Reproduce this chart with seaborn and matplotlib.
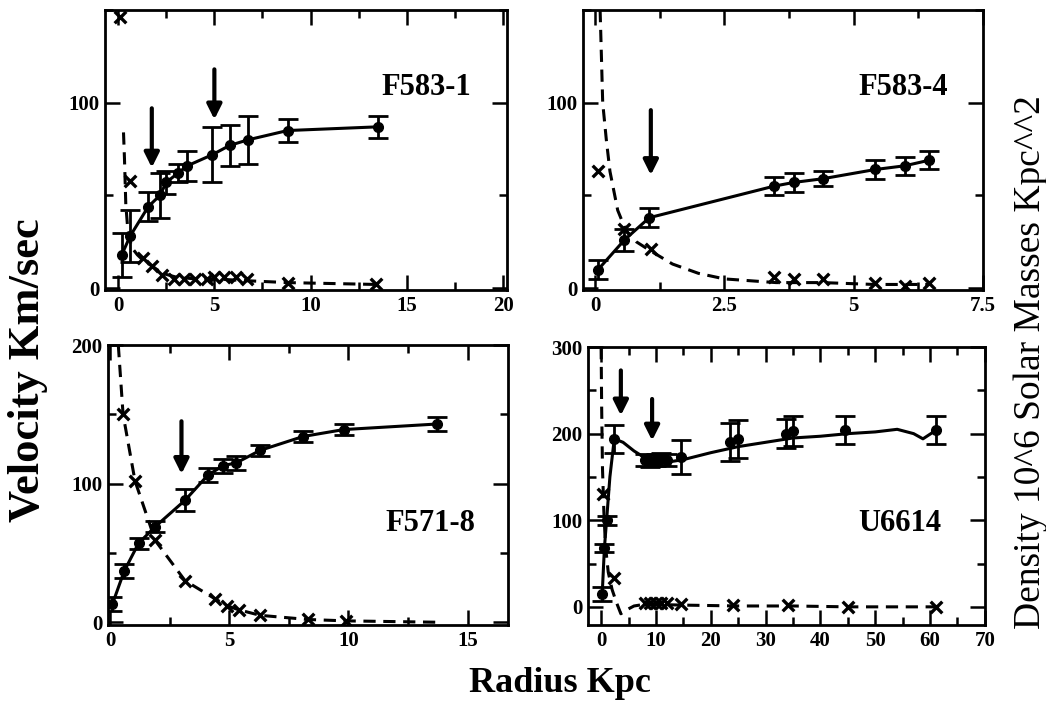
import numpy as np
import seaborn as sns
import matplotlib.pyplot as plt
from matplotlib.ticker import MultipleLocator, FuncFormatter

# F583-1
r_f5831 = [0.19, 0.62, 1.57, 2.17, 2.5, 3.1, 3.6, 4.9, 5.8, 6.75, 8.8, 13.5]
v_f5831 = [18, 28, 44, 50, 57, 62, 66, 72, 77, 80, 85, 87]
e_f5831 = [12, 14, 8, 12, 6, 5, 8, 15, 11, 13, 6, 6]
rd_f5831 = [0.1, 0.62, 1.3, 1.75, 2.3, 2.9, 3.4, 4.0, 4.6, 5.0, 5.5, 6.1, 6.7, 8.8, 13.4]
d_f5831 = [146, 58, 16, 12, 7, 5, 5, 5, 5, 6, 6, 6, 5, 3, 2]
cr_f5831 = [0.28, 0.33, 0.4, 0.5, 0.7, 1.0, 1.3, 1.75, 2.3, 3.0, 4.0, 5.0, 6.7, 8.8, 13.4]
cd_f5831 = [84, 70, 45, 32, 22, 18, 15, 12, 8, 6, 5, 5, 4, 3, 2]

# F583-4
r_f5834 = [0.06, 0.57, 1.05, 3.46, 3.84, 4.4, 5.42, 5.99, 6.46]
v_f5834 = [10, 26, 38, 55, 57, 59, 64, 66, 69]
e_f5834 = [5, 6, 5, 5, 5, 4, 5, 5, 5]
rd_f5834 = [0.06, 0.57, 1.08, 3.46, 3.84, 4.4, 5.42, 5.99, 6.46]
d_f5834 = [63, 32, 21, 6, 5, 5, 3, 1, 3]
cr_f5834 = [0.1, 0.15, 0.22, 0.29, 0.44, 0.6, 0.8, 1.08, 1.5, 2.0, 2.5, 3.0, 3.5, 4.4, 5.4, 6.5]
cd_f5834 = [150, 100, 80, 63, 42, 31, 25, 20, 13, 8, 5, 4, 3, 3, 2, 2]

# F571-8
r_f5718 = [0.1, 0.6, 1.2, 1.9, 3.15, 4.1, 4.75, 5.3, 6.3, 8.1, 9.8, 13.7]
v_f5718 = [13, 37, 57, 69, 88, 106, 113, 115, 124, 134, 139, 143]
e_f5718 = [5, 5, 4, 4, 8, 5, 5, 5, 4, 4, 4, 5]
rd_f5718 = [0.55, 1.05, 1.9, 3.15, 4.4, 4.9, 5.4, 6.3, 8.3, 9.9]
d_f5718 = [150, 102, 59, 30, 17, 12, 9, 5, 2, 1]
cr_f5718 = [0.35, 0.55, 1.05, 1.9, 3.15, 4.4, 4.9, 5.4, 6.3, 8.3, 9.9, 13.8]
cd_f5718 = [200, 150, 102, 59, 30, 17, 12, 9, 5, 2, 1, 0]

# U6614
r_u6614 = [0.2, 0.6, 1.0, 2.4, 8, 9, 10, 11, 12, 14.5, 23.5, 25, 33.7, 35, 44.5, 61.1]
v_u6614 = [15, 68, 100, 194, 170, 168, 170, 171, 170, 173, 190, 194, 200, 203, 204, 204]
e_u6614 = [8, 5, 5, 16, 7, 7, 7, 7, 7, 20, 22, 22, 17, 17, 16, 16]
fr_u6614 = [0.2, 0.6, 1.0, 1.6, 2.4, 4, 6, 8, 10, 12, 15, 20, 25, 30, 35, 40, 45, 50, 54, 57, 58.7, 61.1]
fv_u6614 = [15, 68, 100, 150, 194, 190, 180, 172, 167, 167, 170, 178, 185, 190, 195, 197, 200, 202, 205, 200, 194, 204]
rd_u6614 = [0.4, 2.4, 8, 9, 10, 11, 12, 14.5, 24, 34, 45, 61]
d_u6614 = [130, 33, 4, 4, 4, 4, 4, 3, 2, 2, 0, 0]
cr_u6614 = [0, 0.1, 0.25, 0.5, 0.8, 1.3, 2.0, 2.8, 3.6, 4.5, 6, 8, 15, 25, 35, 45, 61]
cd_u6614 = [300, 230, 160, 110, 70, 40, 20, 5, -8, -4, 1, 3, 2, 1, 1, 0, 0]

sns.set_style("ticks", {'axes.edgecolor': 'black', 'text.color': 'black',
                        'xtick.color': 'black', 'ytick.color': 'black',
                        'axes.labelcolor': 'black'})
plt.rcParams['font.family'] = ['Liberation Serif', 'DejaVu Serif']

fig = plt.figure(figsize=(10.46, 7.2), dpi=100)

panels = [
    dict(rect=[0.1004, 0.5972, 0.3843, 0.3889], name='F583-1',
         r=r_f5831, v=v_f5831, e=e_f5831, fr=r_f5831, fv=v_f5831,
         rd=rd_f5831, d=d_f5831, cr=cr_f5831, cd=cd_f5831,
         xlim=(-0.68, 20.2), ylim=(-1, 150), xmaj=5, xmin=2.5, ymaj=100, ymin=50,
         label_xy=(16, 108), arrows=[(1.75, 97, 65), (5.0, 118, 91)]),
    dict(rect=[0.5574, 0.5972, 0.3824, 0.3889], name='F583-4',
         r=r_f5834, v=v_f5834, e=e_f5834, fr=r_f5834, fv=v_f5834,
         rd=rd_f5834, d=d_f5834, cr=cr_f5834, cd=cd_f5834,
         xlim=(-0.23, 7.5), ylim=(-1, 150), xmaj=2.5, xmin=1.25, ymaj=100, ymin=50,
         label_xy=(5.95, 108), arrows=[(1.08, 96, 61)]),
    dict(rect=[0.1033, 0.1319, 0.3824, 0.3889], name='F571-8',
         r=r_f5718, v=v_f5718, e=e_f5718, fr=r_f5718, fv=v_f5718,
         rd=rd_f5718, d=d_f5718, cr=cr_f5718, cd=cd_f5718,
         xlim=(-0.08, 16.7), ylim=(-2, 200), xmaj=5, xmin=2.5, ymaj=100, ymin=50,
         label_xy=(13.45, 71), arrows=[(3.0, 145, 107)]),
    dict(rect=[0.5621, 0.1319, 0.3795, 0.3861], name='U6614',
         r=r_u6614, v=v_u6614, e=e_u6614, fr=fr_u6614, fv=fv_u6614,
         rd=rd_u6614, d=d_u6614, cr=cr_u6614, cd=cd_u6614,
         xlim=(-2.4, 70), ylim=(-21, 300), xmaj=10, xmin=5, ymaj=100, ymin=50,
         label_xy=(54.4, 96), arrows=[(3.6, 273, 221), (9.3, 240, 192)]),
]

fmt = FuncFormatter(lambda val, pos: '%g' % val)

for p in panels:
    ax = fig.add_axes(p['rect'])
    # density profile (dashed) and its points
    sns.lineplot(x=p['cr'], y=p['cd'], ax=ax, color='k', lw=2.2,
                 linestyle=(0, (4, 2.5)), sort=False, estimator=None)
    sns.scatterplot(x=p['rd'], y=p['d'], ax=ax, marker='x', color='k',
                    s=70, linewidth=2.4, zorder=4)
    # rotation curve
    sns.lineplot(x=p['fr'], y=p['fv'], ax=ax, color='k', lw=2.2,
                 sort=False, estimator=None)
    ax.errorbar(p['r'], p['v'], yerr=p['e'], fmt='o', color='k', ms=7,
                capsize=7, elinewidth=2, capthick=2, zorder=5)
    for xa, ytop, ytip in p['arrows']:
        ax.annotate('', xy=(xa, ytip), xytext=(xa, ytop),
                    arrowprops=dict(arrowstyle='-|>', color='k', lw=3,
                                    mutation_scale=22, shrinkA=0, shrinkB=0))
    ax.text(p['label_xy'][0], p['label_xy'][1], p['name'], fontsize=22,
            fontweight='bold', ha='center', va='center')

    ax.set_xlim(p['xlim'])
    ax.set_ylim(p['ylim'])
    ax.xaxis.set_major_locator(MultipleLocator(p['xmaj']))
    ax.xaxis.set_minor_locator(MultipleLocator(p['xmin']))
    ax.yaxis.set_major_locator(MultipleLocator(p['ymaj']))
    ax.yaxis.set_minor_locator(MultipleLocator(p['ymin']))
    ax.xaxis.set_major_formatter(fmt)
    ax.yaxis.set_major_formatter(fmt)
    ax.tick_params(which='both', direction='in', top=True, right=True, width=1.8)
    ax.tick_params(which='major', length=11, labelsize=15, pad=4)
    ax.tick_params(which='minor', length=6)
    for lab in ax.get_xticklabels() + ax.get_yticklabels():
        lab.set_fontweight('bold')
    for s in ax.spines.values():
        s.set_linewidth(2)
    ax.set_xlabel('')
    ax.set_ylabel('')

fig.text(0.027, 0.486, 'Velocity Km/sec', rotation=90, fontsize=32,
         fontweight='bold', ha='center', va='center')
fig.text(0.535, 0.051, 'Radius Kpc', fontsize=26, fontweight='bold',
         ha='center', va='center')
fig.text(0.985, 0.497, 'Density 10^6 Solar Masses Kpc^^2', rotation=90,
         fontsize=27, ha='center', va='center')

fig.savefig('out.png', dpi=100)
